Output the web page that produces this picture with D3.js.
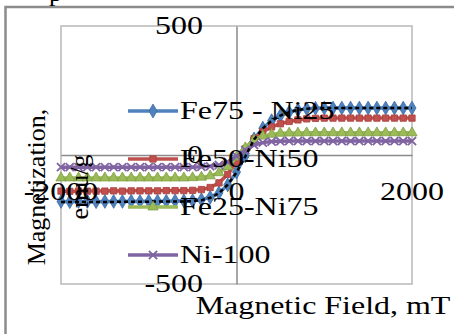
<!DOCTYPE html>
<html><head><meta charset="utf-8">
<script src="https://cdn.jsdelivr.net/npm/d3@7/dist/d3.min.js"></script>
<style>html,body{margin:0;padding:0;background:#fff;}svg{display:block;}text{font-family:"Liberation Serif","Times New Roman",serif;fill:#000;}</style>
</head><body>
<svg id="c" width="454" height="334"></svg>
<script>
const field = [-2000,-1900,-1800,-1700,-1600,-1500,-1400,-1300,-1200,-1100,-1000,-900,-800,-700,-600,-500,-400,-300,-200,-100,0,100,200,300,400,500,600,700,800,900,1000,1100,1200,1300,1400,1500,1600,1700,1800,1900,2000];
const fe75 = [-180,-181,-180,-180,-181,-180,-180,-180,-179,-180,-179,-179,-179,-178,-178,-177,-173,-164,-147,-116,-66,-4,62,104,133,153,166,175,179,181,182,182,182,182,182,182,182,182,182,182,182];
const fe50 = [-140,-141,-140,-140,-140,-140,-139,-140,-139,-139,-139,-139,-138,-138,-138,-137,-134,-126,-108,-75,-26,24,63,90,109,121,130,136,140,142,143,143,143,143,143,143,143,143,143,143,143];
const fe25 = [-89,-89,-89,-89,-89,-89,-89,-89,-89,-89,-89,-89,-89,-89,-89,-88,-86,-81,-69,-45,-8,28,58,73,80,84,85,85,86,86,86,86,86,86,86,86,86,86,86,86,86];
const ni100 = [-47,-47,-47,-47,-47,-47,-47,-47,-47,-47,-47,-47,-47,-47,-47,-47,-46,-44,-39,-27,-5,19,39,48,52,53,54,54,54,54,54,54,54,54,54,54,54,54,54,54,54];
const fit = [-182,-182,-182,-182,-182,-182,-182,-181,-181,-181,-181,-180,-180,-180,-180,-179,-175,-166,-148,-115,-68,-6,60,103,133,153,166,175,179,181,182,182,182,182,182,182,182,182,182,182,182];
const seriesNames = ["Fe75 - Ni25","Fe50-Ni50","Fe25-Ni75","Ni-100"];
const xTicks = [-2000,0,2000];
const yTicks = [-500,0,500];
const xTitle = "Magnetic Field, mT";
const yTitle1 = "Magnetization,";
const yTitle2 = "emu/g";

const svg = d3.select("#c");
const SX = 1.23, FS = 26;
const fmt = d => String(d);
const x = d3.scaleLinear().domain([-2000,2000]).range([61,412]);
const y = d3.scaleLinear().domain([-500,500]).range([284,26]);

// outer chart frame
svg.append("rect").attr("x",5.5).attr("y",7).attr("width",460).attr("height",340)
  .attr("fill","#fff").attr("stroke","#8c8c8c").attr("stroke-width",2.5);
// clipped text above the chart
svg.append("text").attr("x",49).attr("y",0.5).style("font-size",FS+"px").text("p");

// plot area border
svg.append("rect").attr("x",61).attr("y",26).attr("width",351).attr("height",258)
  .attr("fill","none").attr("stroke","#b8b8b8").attr("stroke-width",1.5);

const cols = ["#4F81BD","#C0504D","#9BBB59","#8064A2"];
const strokes = ["#3C6BA5","#A83F3C","#7F9E43","#674E88"];
const syms = [d3.symbolDiamond,d3.symbolSquare,d3.symbolTriangle,d3.symbolTimes];
const sizes = [55,40,45,45];
const data = [fe75,fe50,fe25,ni100];
const line = d3.line().x((d,i)=>x(field[i])).y(d=>y(d));

function marker(g,k,cx,cy){
  const p = g.append("path").attr("d",d3.symbol(syms[k],sizes[k])()).attr("transform",`translate(${cx},${cy})`);
  if(k===3) p.attr("fill","none").attr("stroke",cols[k]).attr("stroke-width",1.8);
  else p.attr("fill",cols[k]).attr("stroke",strokes[k]).attr("stroke-width",0.8);
}

// axis lines (domain) under the series
const axG = svg.append("g");
const plot = svg.append("g");
data.forEach((arr,k)=>{
  plot.append("path").attr("d",line(arr)).attr("fill","none").attr("stroke",cols[k]).attr("stroke-width",3.5);
  const g = plot.append("g");
  arr.forEach((v,i)=>marker(g,k,x(field[i]),y(v)));
});
plot.append("path").attr("d",line(fit)).attr("fill","none").attr("stroke","#000")
  .attr("stroke-width",2.5).attr("stroke-dasharray","4,3");

// axes at zero
const xAxis = axG.append("g").attr("transform",`translate(0,${y(0)})`)
  .call(d3.axisBottom(x).tickValues(xTicks).tickSize(0).tickSizeOuter(0).tickFormat(fmt));
const yAxis = axG.append("g").attr("transform",`translate(${x(0)},0)`)
  .call(d3.axisLeft(y).tickValues(yTicks).tickSize(0).tickSizeOuter(0).tickFormat(fmt));
[xAxis,yAxis].forEach(a=>{a.select(".domain").attr("stroke","#8a8a8a").attr("stroke-width",1.5);a.attr("font-family",null).attr("font-size",null);});
// tick labels drawn above the series
const labG = svg.append("g");
xAxis.selectAll(".tick").each(function(d){
  labG.append("text").attr("transform",`translate(${x(d)},200) scale(${SX},1)`).attr("text-anchor","middle")
    .style("font-size",FS+"px").text(fmt(d));
});
yAxis.selectAll(".tick").each(function(d){
  labG.append("text").attr("transform",`translate(${x(0)-33.5},${y(d)+8}) scale(${SX},1)`).attr("text-anchor","end")
    .style("font-size",FS+"px").text(fmt(d));
});
xAxis.selectAll(".tick text").remove();
yAxis.selectAll(".tick text").remove();

// legend
const legY = [111,159,207,255];
seriesNames.forEach((n,k)=>{
  const g = svg.append("g");
  g.append("line").attr("x1",128).attr("x2",178).attr("y1",legY[k]).attr("y2",legY[k])
    .attr("stroke",cols[k]).attr("stroke-width",3.5);
  marker(g,k,153,legY[k]);
  g.append("text").attr("transform",`translate(180,${legY[k]+8}) scale(${SX},1)`)
    .style("font-size",FS+"px").text(n);
});

// titles
svg.append("text").attr("transform",`translate(323,314) scale(${SX},1)`).attr("text-anchor","middle")
  .style("font-size",FS+"px").text(xTitle);
svg.append("text").attr("transform",`translate(45,187) rotate(-90)`).attr("text-anchor","middle")
  .style("font-size",FS+"px").text(yTitle1);
svg.append("text").attr("transform",`translate(88,187) rotate(-90)`).attr("text-anchor","middle")
  .style("font-size",FS+"px").text(yTitle2);
</script>
</body></html>
